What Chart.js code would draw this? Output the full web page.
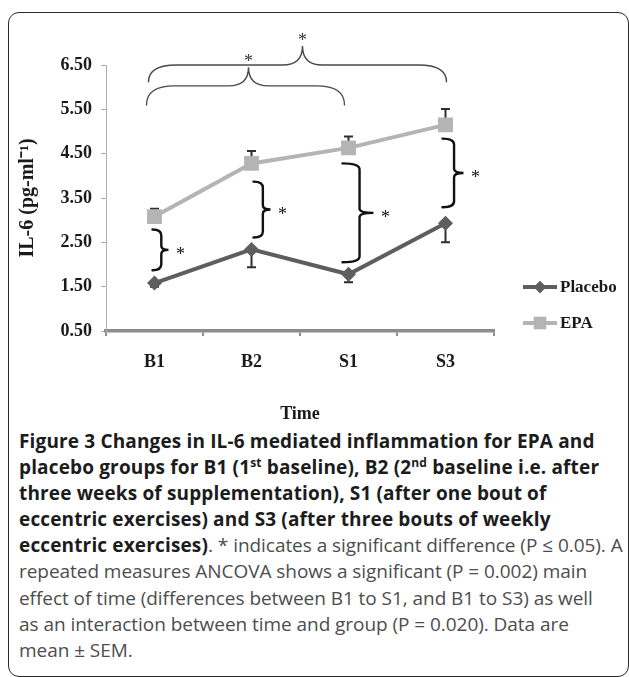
<!DOCTYPE html>
<html>
<head>
<meta charset="utf-8">
<script src="https://cdn.jsdelivr.net/npm/chart.js@4"></script>
<style>
html,body{margin:0;padding:0;background:#fff;width:629px;height:677px;overflow:hidden;}
#frame{position:absolute;left:8px;top:12px;width:621px;height:665px;border:1.6px solid #2a2a2a;border-radius:11px;box-sizing:border-box;}
#wrap{position:absolute;left:0;top:0;width:629px;height:425px;}
#caption{position:absolute;left:19px;top:428px;font-family:"Open Sans",sans-serif;font-size:19px;line-height:26.1px;color:#4d4d4d;white-space:nowrap;letter-spacing:-0.05px;}
#caption b{color:#1c1c1c;font-weight:700;letter-spacing:0.15px;}
#caption sup{font-size:12px;line-height:0;}
</style>
</head>
<body>
<div id="frame"></div>
<div id="wrap"><canvas id="c"></canvas></div>
<div id="caption">
<b>Figure 3 Changes in IL-6 mediated inflammation for EPA and</b><br>
<b>placebo groups for B1 (1<sup>st</sup> baseline), B2 (2<sup>nd</sup> baseline i.e. after</b><br>
<b>three weeks of supplementation), S1 (after one bout of</b><br>
<b>eccentric exercises) and S3 (after three bouts of weekly</b><br>
<b>eccentric exercises)</b>. * indicates a significant difference (P ≤ 0.05). A<br>
repeated measures ANCOVA shows a significant (P = 0.002) main<br>
effect of time (differences between B1 to S1, and B1 to S3) as well<br>
as an interaction between time and group (P = 0.020). Data are<br>
mean ± SEM.
</div>
<script>
// ---- data ----
const categories = ['B1', 'B2', 'S1', 'S3'];
const seriesNames = ['Placebo', 'EPA'];
const placebo = [1.58, 2.34, 1.78, 2.93];
const placeboSem = [0.08, 0.40, 0.18, 0.43];
const epa = [3.08, 4.28, 4.63, 5.15];
const epaSem = [0.18, 0.28, 0.26, 0.36];
const yTicks = [0.5, 1.5, 2.5, 3.5, 4.5, 5.5, 6.5];
const yTickLabels = ['0.50', '1.50', '2.50', '3.50', '4.50', '5.50', '6.50'];
const yTitle = 'IL-6 (pg-ml\u207B\u00B9)';
const xTitle = 'Time';
// group-difference braces at each time point (value range spanned)
const groupBraceCats = [0, 1, 2, 3];
const groupBraceLow = [1.87, 2.61, 2.05, 3.29];
const groupBraceHigh = [2.79, 3.87, 4.28, 4.84];
// time-effect braces (from category, to category, end level, line level, tip level)
const timeBraceFrom = [0, 0];
const timeBraceTo = [2, 3];
const timeBraceEnd = [5.6, 6.12];
const timeBraceLine = [6.03, 6.5];
const timeBraceTip = [6.45, 6.93];

// ---- styles ----
const serifFamily = '"Liberation Serif", "Times New Roman", serif';
const serifBold = {family: serifFamily, size: 18, weight: 'bold'};
const placeboColor = '#5e5e5e';
const epaColor = '#b4b4b4';
const errColor = '#2e2e2e';
const groupBraceStyle = [ // pixel offset of brace ends from category centre, brace width
  {dx: -2, w: 16}, {dx: 2, w: 17}, {dx: -6, w: 31}, {dx: -3, w: 21}
];
const timeBraceStyle = [{dxL: -8, dxR: -4, dxTip: 3}, {dxL: -6, dxR: 1, dxTip: 5}];

const errorBars = {
  id: 'errorBars',
  beforeDatasetsDraw(chart) {
    const ctx = chart.ctx, y = chart.scales.y;
    const sems = [placeboSem, epaSem];
    const dirs = [-1, 1];
    ctx.save();
    ctx.strokeStyle = errColor;
    ctx.lineWidth = 2;
    chart.data.datasets.forEach((ds, i) => {
      const meta = chart.getDatasetMeta(i);
      meta.data.forEach((pt, j) => {
        const v = ds.data[j];
        const y0 = y.getPixelForValue(v);
        const y1 = y.getPixelForValue(v + dirs[i] * sems[i][j]);
        ctx.beginPath();
        ctx.moveTo(pt.x, y0); ctx.lineTo(pt.x, y1);
        ctx.moveTo(pt.x - 4.5, y1); ctx.lineTo(pt.x + 4.5, y1);
        ctx.stroke();
      });
    });
    ctx.restore();
  }
};

function star(ctx, x, y, size) {
  ctx.font = size + 'px ' + serifFamily;
  ctx.textAlign = 'center';
  ctx.textBaseline = 'alphabetic';
  ctx.fillText('*', x, y + size * 0.56);
}

const braces = {
  id: 'braces',
  afterDatasetsDraw(chart) {
    const ctx = chart.ctx, xs = chart.scales.x, ys = chart.scales.y;
    ctx.save();
    // vertical braces between groups
    ctx.strokeStyle = '#111';
    ctx.fillStyle = '#111';
    ctx.lineWidth = 2.4;
    ctx.lineCap = 'round';
    groupBraceCats.forEach((c, i) => {
      const st = groupBraceStyle[i];
      const x0 = xs.getPixelForValue(c) + st.dx;
      const w = st.w;
      const x1 = x0 + w * 0.55, x2 = x0 + w;
      const yT = ys.getPixelForValue(groupBraceHigh[i]);
      const yB = ys.getPixelForValue(groupBraceLow[i]);
      const ym = (yT + yB) / 2;
      const r = Math.min(6, (yB - yT) / 4);
      ctx.beginPath();
      ctx.moveTo(x0, yT);
      ctx.quadraticCurveTo(x1, yT, x1, yT + r);
      ctx.lineTo(x1, ym - r * 0.7);
      ctx.quadraticCurveTo(x1, ym, x2, ym);
      ctx.quadraticCurveTo(x1, ym, x1, ym + r * 0.7);
      ctx.lineTo(x1, yB - r);
      ctx.quadraticCurveTo(x1, yB, x0, yB);
      ctx.stroke();
      star(ctx, x2 + 12, ym, 18);
    });
    // horizontal braces for time effect
    ctx.strokeStyle = '#4a4a4a';
    ctx.fillStyle = '#333';
    ctx.lineWidth = 1.4;
    timeBraceFrom.forEach((c, i) => {
      const st = timeBraceStyle[i];
      const xL = xs.getPixelForValue(c) + st.dxL;
      const xR = xs.getPixelForValue(timeBraceTo[i]) + st.dxR;
      const xm = (xL + xR) / 2 + st.dxTip;
      const yE = ys.getPixelForValue(timeBraceEnd[i]);
      const yL = ys.getPixelForValue(timeBraceLine[i]);
      const yT = ys.getPixelForValue(timeBraceTip[i]);
      const r = 28, rt = 20;
      ctx.beginPath();
      ctx.moveTo(xL, yE);
      ctx.quadraticCurveTo(xL, yL, xL + r, yL);
      ctx.lineTo(xm - rt, yL);
      ctx.quadraticCurveTo(xm, yL, xm, yT);
      ctx.quadraticCurveTo(xm, yL, xm + rt, yL);
      ctx.lineTo(xR - r, yL);
      ctx.quadraticCurveTo(xR, yL, xR, yE);
      ctx.stroke();
      star(ctx, xm, yT - 10, 18);
    });
    ctx.restore();
  }
};

const customLegend = {
  id: 'customLegend',
  afterDraw(chart) {
    const ctx = chart.ctx;
    const ys = [287, 323];
    const xl = 523, xr = 557;
    ctx.save();
    chart.data.datasets.forEach((ds, i) => {
      const y = ys[i];
      ctx.strokeStyle = ds.borderColor;
      ctx.lineWidth = ds.borderWidth;
      ctx.beginPath(); ctx.moveTo(xl, y); ctx.lineTo(xr, y); ctx.stroke();
      ctx.fillStyle = ds.pointBackgroundColor;
      ctx.strokeStyle = ds.pointBackgroundColor;
      Chart.helpers.drawPoint(ctx, {pointStyle: ds.pointStyle, radius: ds.pointRadius * 0.85, borderWidth: 0}, (xl + xr) / 2, y);
      ctx.fillStyle = '#1a1a1a';
      ctx.font = 'bold 17px ' + serifFamily;
      ctx.textAlign = 'left';
      ctx.textBaseline = 'middle';
      ctx.fillText(ds.label, xr + 3, y + 1);
    });
    ctx.restore();
  }
};

new Chart(document.getElementById('c'), {
  type: 'line',
  data: {
    labels: categories,
    datasets: [
      {label: seriesNames[0], data: placebo, borderColor: placeboColor, borderWidth: 4,
       pointStyle: 'rectRot', pointRadius: 7.5, pointBackgroundColor: placeboColor, pointBorderWidth: 0, tension: 0},
      {label: seriesNames[1], data: epa, borderColor: epaColor, borderWidth: 4,
       pointStyle: 'rect', pointRadius: 10.5, pointBackgroundColor: epaColor, pointBorderWidth: 0, tension: 0}
    ]
  },
  options: {
    responsive: true,
    maintainAspectRatio: false,
    animation: false,
    layout: {padding: {left: 14, right: 135, top: 65, bottom: 0}},
    plugins: {legend: {display: false}, tooltip: {enabled: false}},
    scales: {
      x: {
        offset: true,
        grid: {offset: true, drawOnChartArea: false, drawTicks: true, tickLength: 5, color: '#8c8c8c', lineWidth: 2},
        border: {color: '#8c8c8c', width: 3.5},
        ticks: {color: '#1a1a1a', font: serifBold, padding: 16},
        title: {display: true, text: xTitle, color: '#1a1a1a', font: serifBold, padding: {top: 0, bottom: 0}},
        afterFit(s) { s.height = 94; }
      },
      y: {
        min: yTicks[0], max: yTicks[yTicks.length - 1],
        afterBuildTicks(s) { s.ticks = yTicks.map(v => ({value: v})); },
        grid: {drawOnChartArea: false, drawTicks: true, tickLength: 5, color: '#adadad', lineWidth: 1},
        border: {color: '#adadad', width: 1},
        ticks: {color: '#1a1a1a', font: serifBold, padding: 9,
                callback: (v, i) => yTickLabels[i]},
        title: {display: true, text: yTitle, color: '#1a1a1a', font: {family: serifFamily, size: 20, weight: 'bold'}, padding: {top: 2, bottom: 0}},
        afterFit(s) { s.width = 92; }
      }
    }
  },
  plugins: [errorBars, braces, customLegend]
});
</script>
</body>
</html>
